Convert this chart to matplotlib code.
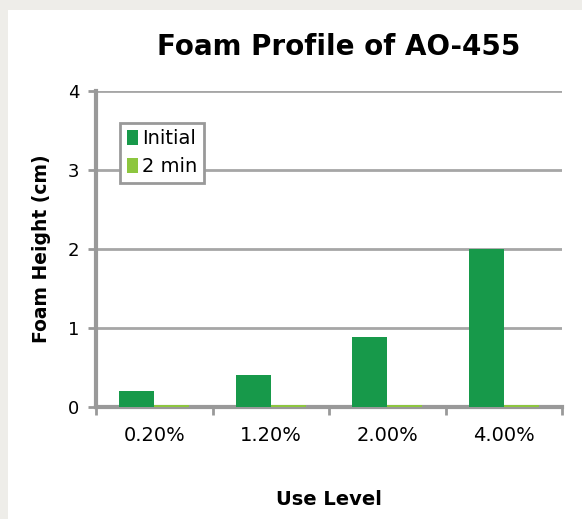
import matplotlib.pyplot as plt
import matplotlib.patches as mpatches
import numpy as np

# Datos del gráfico
niveles = ['0.20%', '1.20%', '2.00%', '4.00%']
inicial = [0.2, 0.4, 0.88, 2.0]
dos_min = [0.03, 0.03, 0.03, 0.03]

fig = plt.figure(figsize=(5.82, 5.19), dpi=100)
fig.patch.set_facecolor('#EEEDE9')
# Panel blanco
fig.patches.append(mpatches.Rectangle((8 / 582, 0), 1, 1 - 10 / 519, transform=fig.transFigure,
                                      facecolor='white', edgecolor='none', zorder=-10))

ax = fig.add_axes([0.165, 0.216, 0.801, 0.609])
ax.set_facecolor('white')

x = np.arange(len(niveles))
ancho = 0.3
ax.bar(x - ancho / 2, inicial, ancho, color='#17994A', label='Initial', zorder=3)
ax.bar(x + ancho / 2, dos_min, ancho, color='#8DC63F', label='2 min', zorder=3)

ax.set_xlim(-0.5, len(niveles) - 0.5)
ax.set_ylim(0, 4)
ax.set_yticks([0, 1, 2, 3, 4])
ax.set_xticks(np.arange(-0.5, len(niveles), 1.0), minor=False)
ax.set_xticklabels([])
ax.set_xticks(x, minor=True)
ax.set_xticklabels(niveles, minor=True)
ax.tick_params(axis='x', which='minor', length=0, labelsize=14, pad=14)
ax.tick_params(axis='x', which='major', length=6, width=2, color='#999999')
ax.tick_params(axis='y', length=6, width=2, color='#999999', labelsize=13, pad=6)

ax.yaxis.grid(True, color='#A6A6A6', linewidth=2, zorder=0)
for s in ['top', 'right']:
    ax.spines[s].set_visible(False)
for s in ['left', 'bottom']:
    ax.spines[s].set_color('#999999')
    ax.spines[s].set_linewidth(3)

ax.set_title('Foam Profile of AO-455', fontsize=20, fontweight='bold', pad=26, x=0.52)
ax.set_ylabel('Foam Height (cm)', fontsize=13.5, fontweight='bold', labelpad=12)
ax.set_xlabel('Use Level', fontsize=14, fontweight='bold', labelpad=32)

leg = ax.legend(loc='upper left', bbox_to_anchor=(0.03, 0.93), fontsize=14,
                handlelength=0.6, handleheight=0.8, handletextpad=0.2,
                borderpad=0.35, labelspacing=0.45, fancybox=False, framealpha=1)
leg.get_frame().set_edgecolor('#999999')
leg.get_frame().set_linewidth(2)

fig.savefig('out.png', dpi=100, facecolor=fig.get_facecolor())
